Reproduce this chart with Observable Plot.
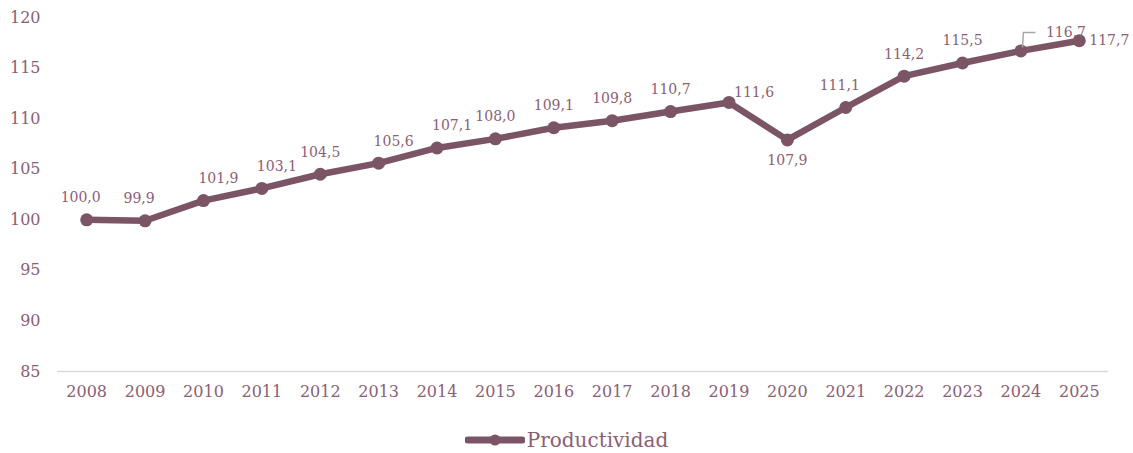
<!DOCTYPE html>
<html>
<head>
<meta charset="utf-8">
<script src="https://cdn.jsdelivr.net/npm/d3@7"></script>
<script src="https://cdn.jsdelivr.net/npm/@observablehq/plot@0.6"></script>
<style>
  html, body { margin: 0; padding: 0; background: #fff; }
  #chart { width: 1133px; }
  .legend { height: 43px; display: flex; justify-content: center; align-items: center; padding-top: 17px; box-sizing: border-box;
    font-family: "DejaVu Serif", serif; font-size: 20px; color: #8a6075; }
  .legend svg { margin-right: 2px; }
</style>
</head>
<body>
<div id="chart"></div>
<script>
const years = [2008, 2009, 2010, 2011, 2012, 2013, 2014, 2015, 2016, 2017, 2018, 2019, 2020, 2021, 2022, 2023, 2024, 2025];
const values = [100.0, 99.9, 101.9, 103.1, 104.5, 105.6, 107.1, 108.0, 109.1, 109.8, 110.7, 111.6, 107.9, 111.1, 114.2, 115.5, 116.7, 117.7];
const labelPlacement = ["topLeft", "topLeft", "topRight", "topRight", "top", "topRight", "topRight", "top", "top", "top", "top", "upperRight", "bottom", "topLeft", "top", "top", "leader", "right"];
const yTicks = [85, 90, 95, 100, 105, 110, 115, 120];
const seriesName = "Productividad";

const lineColor = "#7b5566";
const textColor = "#8a6075";

const data = years.map((year, i) => ({year, value: values[i], place: labelPlacement[i]}));
const fmt = v => v.toFixed(1).replace(".", ",");

const placements = {
  top: {dx: 0, dy: -22, textAnchor: "middle"},
  topLeft: {dx: -6, dy: -22, textAnchor: "middle"},
  topRight: {dx: 15, dy: -22, textAnchor: "middle"},
  upperRight: {dx: 5, dy: -10, textAnchor: "start"},
  right: {dx: 10, dy: 0, textAnchor: "start"},
  bottom: {dx: 0, dy: 21, textAnchor: "middle"},
  leader: {dx: 25, dy: -18, textAnchor: "start"}
};

const labelMarks = Object.entries(placements).map(([key, p]) =>
  Plot.text(data.filter(d => d.place === key), {
    x: "year", y: "value", text: d => fmt(d.value),
    dx: p.dx, dy: p.dy, textAnchor: p.textAnchor,
    fill: textColor, fontSize: 14
  })
);

const plot = Plot.plot({
  width: 1133,
  height: 410,
  marginLeft: 57,
  marginRight: 25,
  marginTop: 17,
  marginBottom: 39,
  style: {fontFamily: "DejaVu Serif, serif", fontSize: "16px", color: textColor, background: "#fff"},
  x: {type: "point", domain: years, padding: 0.5, round: false},
  y: {domain: [85, 120]},
  marks: [
    Plot.ruleY([85], {stroke: "#d9d9d9", strokeWidth: 1.5}),
    Plot.axisY({ticks: yTicks, tickSize: 0, tickPadding: 17, label: null, fill: textColor, fontSize: 16}),
    Plot.axisX({ticks: years, tickFormat: d => String(d), tickSize: 0, tickPadding: 14, label: null, fill: textColor, fontSize: 16}),
    Plot.line(data, {x: "year", y: "value", stroke: lineColor, strokeWidth: 6.5, strokeLinejoin: "round"}),
    Plot.dot(data, {x: "year", y: "value", r: 6.5, fill: lineColor}),
    ...labelMarks
  ]
});

// leader line for the label drawn away from its point
const xs = plot.scale("x"), ys = plot.scale("y");
data.filter(d => d.place === "leader").forEach(d => {
  const px = xs.apply(d.year), py = ys.apply(d.value);
  d3.select(plot).append("path")
    .attr("d", `M${px + 2},${py - 3}L${px + 3},${py - 18}L${px + 15},${py - 18}`)
    .attr("fill", "none").attr("stroke", "#a6a6a6").attr("stroke-width", 1.5);
});

document.getElementById("chart").appendChild(plot);

const legend = document.createElement("div");
legend.className = "legend";
legend.innerHTML = `<svg width="60" height="14"><line x1="3" y1="7" x2="57" y2="7" stroke="${lineColor}" stroke-width="7" stroke-linecap="round"/><circle cx="30" cy="7" r="5.5" fill="${lineColor}"/></svg><span>${seriesName}</span>`;
document.getElementById("chart").appendChild(legend);
</script>
</body>
</html>
